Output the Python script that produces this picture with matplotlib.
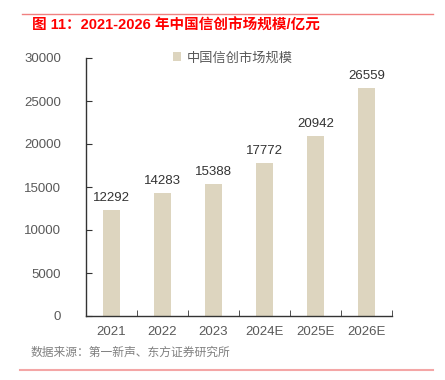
import numpy as np
import matplotlib.pyplot as plt
from matplotlib.lines import Line2D

plt.rcParams['font.family'] = ['Liberation Sans', 'Noto Sans CJK SC', 'DejaVu Sans']

# data
years = ['2021', '2022', '2023', '2024E', '2025E', '2026E']
market_size = [12292, 14283, 15388, 17772, 20942, 26559]
yticks = [0, 5000, 10000, 15000, 20000, 25000, 30000]

bar_color = '#DDD5BF'
text_gray = '#595959'

fig = plt.figure(figsize=(4.45, 3.8), dpi=100)
ax = fig.add_axes([86 / 445, 1 - 316 / 380, 306 / 445, 258 / 380])

x = np.arange(len(years))
ax.bar(x, market_size, width=0.34, color=bar_color, label='中国信创市场规模')
for xi, v in zip(x, market_size):
    ax.text(xi, v + 700, str(v), ha='center', va='bottom', fontsize=9.5, color='#333333')

ax.set_xlim(-0.5, len(years) - 0.5)
ax.set_ylim(0, 30000)
ax.set_yticks(yticks)
ax.set_yticklabels([str(t) for t in yticks], fontsize=9.5, color=text_gray)
ax.set_xticks(x)
ax.set_xticklabels(years, fontsize=9.5, color=text_gray)
ax.set_xticks(np.arange(len(years) + 1) - 0.5, minor=True)
ax.tick_params(axis='x', which='major', length=0, pad=7)
ax.tick_params(axis='x', which='minor', direction='in', length=4, color='#333333')
ax.tick_params(axis='y', direction='in', length=4, color='#333333', pad=18)
for s in ['top', 'right']:
    ax.spines[s].set_visible(False)
for s in ['left', 'bottom']:
    ax.spines[s].set_color('#333333')
    ax.spines[s].set_linewidth(1.0)

leg = ax.legend(loc='upper center', bbox_to_anchor=(0.48, 1.07), frameon=False,
                fontsize=9.5, handlelength=0.6, handleheight=0.6, handletextpad=0.4)
for t in leg.get_texts():
    t.set_color(text_gray)

# title, source and frame lines
fig.add_artist(Line2D([22 / 445, 433 / 445], [1 - 14 / 380, 1 - 14 / 380], color='#F08080', lw=1))
fig.text(32 / 445, 1 - 26 / 380, '图 11：2021-2026 年中国信创市场规模/亿元', color='#FF0000',
         fontsize=10.5, fontweight='bold', va='center', ha='left')
fig.text(31 / 445, 1 - 353 / 380, '数据来源：第一新声、东方证券研究所', color='#808080',
         fontsize=8.5, va='center', ha='left')
fig.add_artist(Line2D([20 / 445, 433 / 445], [1 - 370 / 380, 1 - 370 / 380], color='#F4A6A6', lw=1.5))

fig.savefig('out.png', dpi=100)
